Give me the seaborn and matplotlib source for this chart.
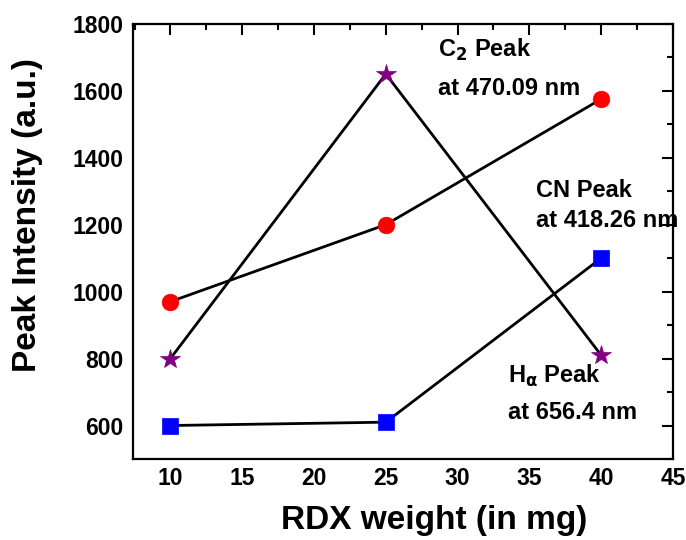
import matplotlib
matplotlib.use("Agg")
import matplotlib.pyplot as plt
import seaborn as sns
import pandas as pd
from matplotlib.ticker import MultipleLocator

sns.set_theme(style="white")
plt.rcParams['font.family'] = ['Liberation Sans', 'DejaVu Sans']
plt.rcParams['font.weight'] = 'bold'
plt.rcParams['text.color'] = 'black'
plt.rcParams['axes.labelcolor'] = 'black'
plt.rcParams['xtick.color'] = 'black'
plt.rcParams['ytick.color'] = 'black'
plt.rcParams['mathtext.default'] = 'bf'

rdx_weight = [10, 25, 40]
c2_peak = [970, 1200, 1575]
cn_peak = [800, 1650, 810]
ha_peak = [600, 610, 1100]

fig = plt.figure(figsize=(6.86, 5.4), dpi=100)
ax = fig.add_axes([0.194, 0.15, 0.787, 0.806])

series = [
    (c2_peak, 'o', '#ff0000', 12),
    (cn_peak, '*', '#800080', 15),
    (ha_peak, 's', '#0000ff', 11),
]
for vals, mk, col, ms in series:
    df = pd.DataFrame({'x': rdx_weight, 'y': vals})
    sns.lineplot(data=df, x='x', y='y', ax=ax, color='black', linewidth=2,
                 marker=mk, markersize=ms, markerfacecolor=col,
                 markeredgecolor=col, markeredgewidth=0.5)

ax.set_xlim(7.4, 45)
ax.set_ylim(500, 1800)
ax.xaxis.set_major_locator(MultipleLocator(5))
ax.xaxis.set_minor_locator(MultipleLocator(2.5))
ax.yaxis.set_major_locator(MultipleLocator(200))
ax.yaxis.set_minor_locator(MultipleLocator(100))
ax.tick_params(which='both', direction='in', top=True, right=True, width=1.5,
               labelsize=16.5, colors='black')
ax.tick_params(axis='y', pad=7)
ax.tick_params(axis='x', pad=6)
ax.tick_params(which='major', length=8)
ax.tick_params(which='minor', length=4)
for lab in ax.get_xticklabels() + ax.get_yticklabels():
    lab.set_fontweight('bold')
for s in ax.spines.values():
    s.set_linewidth(1.6)
    s.set_color('black')

ax.set_xlabel('RDX weight (in mg)', fontsize=24, fontweight='bold')
ax.set_ylabel('Peak Intensity (a.u.)', fontsize=24, fontweight='bold')
ax.xaxis.set_label_coords(434 / 686, 1 - 529 / 540, transform=fig.transFigure)
ax.xaxis.label.set_va('baseline')
ax.yaxis.set_label_coords(28 / 686, 1 - 215 / 540, transform=fig.transFigure)
ax.yaxis.label.set_va('center')

tkw = dict(fontsize=17, fontweight='bold', ha='left', va='baseline', color='black')
ax.text(28.63, 1701, 'C$_{2}$ Peak', **tkw)
ax.text(28.63, 1588, 'at 470.09 nm', **tkw)
ax.text(35.47, 1284, 'CN Peak', **tkw)
ax.text(35.47, 1194, 'at 418.26 nm', **tkw)
ax.text(33.52, 728, 'H$_{\\alpha}$ Peak', **tkw)
ax.text(33.52, 618, 'at 656.4 nm', **tkw)

fig.savefig('out.png', dpi=100)
